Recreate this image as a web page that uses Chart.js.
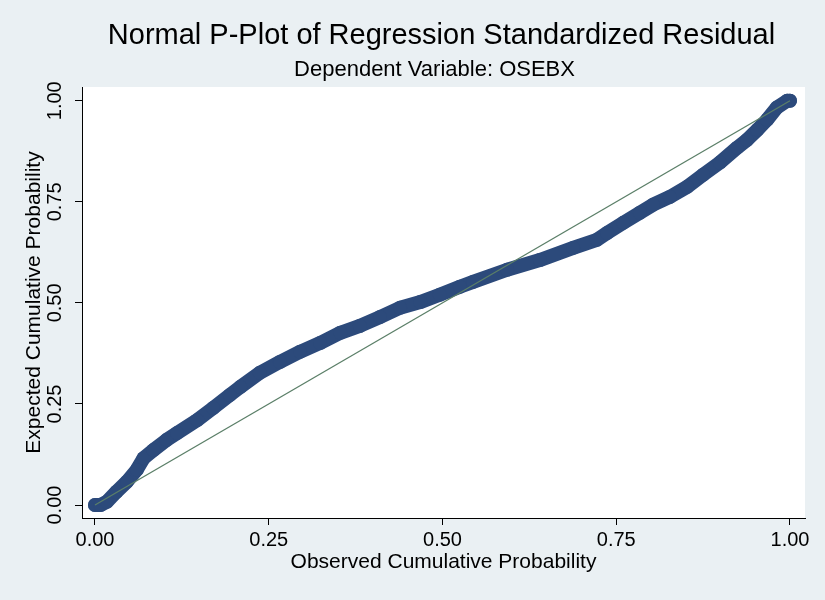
<!DOCTYPE html>
<html>
<head>
<meta charset="utf-8">
<script src="https://cdn.jsdelivr.net/npm/chart.js@4"></script>
<style>
  html, body { margin: 0; padding: 0; background: #eaf0f3; }
  #wrap { width: 825px; height: 600px; }
</style>
</head>
<body>
<div id="wrap"><canvas id="pplot" width="825" height="600"></canvas></div>
<script>
const titleText = "Normal P-Plot of Regression Standardized Residual";
const subtitleText = "Dependent Variable: OSEBX";
const xTitle = "Observed Cumulative Probability";
const yTitle = "Expected Cumulative Probability";
const tickValues = [0, 0.25, 0.5, 0.75, 1];

// residual points
const observedProb = [0, 0.008, 0.017, 0.031, 0.046, 0.060, 0.070, 0.084, 0.103, 0.118,
  0.147, 0.170, 0.194, 0.209, 0.237, 0.266, 0.295, 0.324, 0.353, 0.381,
  0.410, 0.439, 0.468, 0.496, 0.525, 0.544, 0.593, 0.640, 0.688, 0.722,
  0.737, 0.760, 0.784, 0.803, 0.827, 0.852, 0.875, 0.899, 0.924, 0.938,
  0.953, 0.967, 0.981, 0.996, 1.0];
const expectedProb = [0, 0, 0.008, 0.033, 0.058, 0.087, 0.116, 0.136, 0.161, 0.178,
  0.210, 0.240, 0.272, 0.292, 0.327, 0.354, 0.379, 0.401, 0.426, 0.443,
  0.465, 0.488, 0.502, 0.520, 0.540, 0.552, 0.582, 0.606, 0.636, 0.656,
  0.673, 0.698, 0.723, 0.743, 0.762, 0.787, 0.817, 0.847, 0.884, 0.903,
  0.928, 0.953, 0.983, 1.0, 1.0];
const refLine = [0, 1];

const FONT = "'Liberation Sans', Arial, Helvetica, sans-serif";

const plotBackground = {
  id: "plotBackground",
  beforeDraw(chart) {
    const { ctx, chartArea: a } = chart;
    ctx.save();
    ctx.fillStyle = "#eaf0f3";
    ctx.fillRect(0, 0, chart.width, chart.height);
    ctx.fillStyle = "#ffffff";
    ctx.fillRect(a.left, a.top, a.right - a.left, a.bottom - a.top);
    ctx.restore();
  }
};

const headerText = {
  id: "headerText",
  afterDraw(chart) {
    const { ctx, chartArea: a } = chart;
    const cx = (a.left + a.right) / 2;
    ctx.save();
    ctx.fillStyle = "#000000";
    ctx.textAlign = "center";
    ctx.textBaseline = "middle";
    ctx.font = "29px " + FONT;
    ctx.fillText(titleText, cx - 2, 36);
    ctx.font = "22px " + FONT;
    ctx.fillText(subtitleText, cx - 9, 70);
    ctx.restore();
  }
};

function fixedTicks(scale) {
  scale.ticks = tickValues.map(v => ({ value: v }));
}

new Chart(document.getElementById("pplot"), {
  type: "scatter",
  data: {
    datasets: [
      {
        label: "reference",
        data: refLine.map(v => ({ x: v, y: v })),
        showLine: true,
        borderColor: "#5b7f68",
        borderWidth: 1.3,
        pointRadius: 0
      },
      {
        label: "residuals",
        data: observedProb.map((x, i) => ({ x: x, y: expectedProb[i] })),
        showLine: true,
        borderColor: "#2c4a7b",
        borderWidth: 14,
        borderCapStyle: "round",
        borderJoinStyle: "round",
        backgroundColor: "#2c4a7b",
        pointRadius: 7,
        pointBorderWidth: 0
      }
    ]
  },
  options: {
    responsive: false,
    animation: false,
    layout: { padding: { top: 87, right: 20, bottom: 0, left: 0 } },
    plugins: {
      legend: { display: false },
      tooltip: { enabled: false }
    },
    scales: {
      x: {
        type: "linear",
        min: -0.0187,
        max: 1.0216,
        afterBuildTicks: fixedTicks,
        afterFit(scale) { scale.height = 82; },
        grid: { drawOnChartArea: false, tickLength: 7, color: "#000000" },
        border: { color: "#000000", width: 1 },
        ticks: {
          color: "#000000",
          font: { family: FONT, size: 20 },
          padding: 3,
          maxRotation: 0,
          callback: v => Number(v).toFixed(2)
        },
        title: {
          display: true,
          text: xTitle,
          color: "#000000",
          font: { family: FONT, size: 21 },
          padding: { top: 0, bottom: 25 }
        }
      },
      y: {
        type: "linear",
        min: -0.032,
        max: 1.034,
        afterBuildTicks: fixedTicks,
        afterFit(scale) { scale.width = 82; },
        grid: { drawOnChartArea: false, tickLength: 7, color: "#000000" },
        border: { color: "#000000", width: 1 },
        ticks: {
          color: "#000000",
          font: { family: FONT, size: 20 },
          padding: 0,
          minRotation: 90,
          maxRotation: 90,
          crossAlign: "center",
          callback: v => Number(v).toFixed(2)
        },
        title: {
          display: true,
          text: yTitle,
          color: "#000000",
          font: { family: FONT, size: 21 },
          padding: { top: 22, bottom: 0 }
        }
      }
    }
  },
  plugins: [plotBackground, headerText]
});
</script>
</body>
</html>
